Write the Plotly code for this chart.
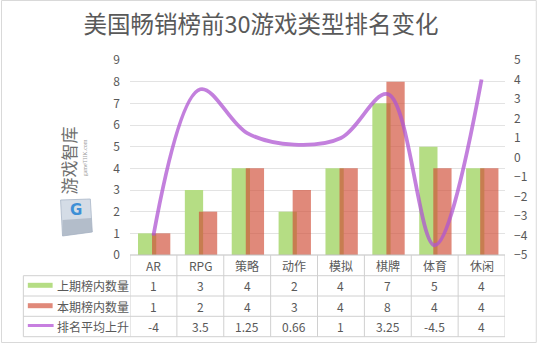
import plotly.graph_objects as go

categories = ["AR", "RPG", "策略", "动作", "模拟", "棋牌", "体育", "休闲"]
prev_counts = [1, 3, 4, 2, 4, 7, 5, 4]
curr_counts = [1, 2, 4, 3, 4, 8, 4, 4]
avg_rise = [-4, 3.5, 1.25, 0.66, 1, 3.25, -4.5, 4]
avg_rise_labels = ["-4", "3.5", "1.25", "0.66", "1", "3.25", "-4.5", "4"]
series_names = ["上期榜内数量", "本期榜内数量", "排名平均上升"]

W, H = 540, 344
L, R, T, B = 130, 508, 60, 255
FONT = "Noto Sans CJK SC, Noto Sans, sans-serif"
TXT = "#595959"
GREEN = "#b5dd84"
RED = "rgba(208,76,53,0.66)"
PURPLE = "rgba(175,85,210,0.75)"
GRID = "#e3e3e3"


def px(xp):
    return (xp - L) / (R - L)


def py(yp):
    return (B - yp) / (B - T)


fig = go.Figure()
fig.add_trace(go.Bar(x=categories, y=prev_counts, name=series_names[0],
                     marker=dict(color=GREEN, line=dict(width=0)),
                     width=0.39, offset=-0.33, yaxis="y"))
fig.add_trace(go.Bar(x=categories, y=curr_counts, name=series_names[1],
                     marker=dict(color=RED, line=dict(width=0)),
                     width=0.39, offset=-0.03, yaxis="y"))
fig.add_trace(go.Scatter(x=categories, y=avg_rise, name=series_names[2],
                         mode="lines", line=dict(color=PURPLE, width=3.8, shape="spline", smoothing=1.0),
                         yaxis="y2"))

shapes = []
annotations = []
row_lines = [275.7, 296, 316.3, 336.7]
row_centers = [285.8, 306.2, 326.5]
header_center = 265.5
LINE = dict(color="#d0d0d0", width=1)

for yl in row_lines:
    shapes.append(dict(type="line", xref="paper", yref="paper", x0=px(22.5), x1=px(R), y0=py(yl), y1=py(yl), line=LINE))
shapes.append(dict(type="line", xref="paper", yref="paper", x0=px(L), x1=px(R), y0=py(B), y1=py(B), line=dict(color="#bfbfbf", width=1)))
for i in range(len(categories) + 1):
    shapes.append(dict(type="line", xref="x", yref="paper", x0=i - 0.5, x1=i - 0.5, y0=py(B), y1=py(row_lines[-1]), line=LINE))
shapes.append(dict(type="line", xref="paper", yref="paper", x0=px(22.5), x1=px(22.5), y0=py(row_lines[0]), y1=py(row_lines[-1]), line=LINE))

for c in categories:
    annotations.append(dict(x=c, xref="x", y=py(header_center), yref="paper", text=c, showarrow=False,
                            font=dict(family=FONT, size=12, color=TXT), xanchor="center", yanchor="middle"))
rows = [[str(v) for v in prev_counts], [str(v) for v in curr_counts], avg_rise_labels]
for r, vals in enumerate(rows):
    for c, v in zip(categories, vals):
        annotations.append(dict(x=c, xref="x", y=py(row_centers[r]), yref="paper", text=v, showarrow=False,
                                font=dict(family=FONT, size=12, color=TXT), xanchor="center", yanchor="middle"))
    annotations.append(dict(x=px(54), xref="paper", y=py(row_centers[r]), yref="paper", text=series_names[r],
                            showarrow=False, font=dict(family=FONT, size=12, color=TXT), xanchor="left", yanchor="middle"))

shapes.append(dict(type="rect", xref="paper", yref="paper", x0=px(27), x1=px(52), y0=py(row_centers[0] - 3), y1=py(row_centers[0] + 2),
                   fillcolor=GREEN, line=dict(width=0)))
shapes.append(dict(type="rect", xref="paper", yref="paper", x0=px(27), x1=px(52), y0=py(row_centers[1] - 3), y1=py(row_centers[1] + 2),
                   fillcolor="#e0897a", line=dict(width=0)))
shapes.append(dict(type="line", xref="paper", yref="paper", x0=px(27), x1=px(53), y0=py(row_centers[2] - 1), y1=py(row_centers[2] - 1),
                   line=dict(color="#c77fe0", width=3)))

shapes.append(dict(type="rect", xref="paper", yref="paper", x0=px(0.5), x1=px(539.5), y0=py(342.5), y1=py(0.5),
                   line=dict(color="#d9d9d9", width=1), fillcolor="rgba(0,0,0,0)"))

# watermark cube
shapes.append(dict(type="path", xref="paper", yref="paper",
                   path="M {a},{b} L {c},{d} L {e},{f} L {g},{h} Z".format(
                       a=px(60), b=py(200), c=px(90), d=py(199), e=px(92), f=py(232), g=px(62), h=py(236)),
                   fillcolor="rgba(205,214,226,0.85)", line=dict(color="rgba(170,182,200,0.8)", width=1)))
shapes.append(dict(type="path", xref="paper", yref="paper",
                   path="M {a},{b} L {c},{d} L {e},{f} L {g},{h} Z".format(
                       a=px(62), b=py(220), c=px(91), d=py(218), e=px(92), f=py(232), g=px(62), h=py(236)),
                   fillcolor="rgba(165,175,190,0.7)", line=dict(width=0)))
annotations.append(dict(x=px(76), y=py(210), xref="paper", yref="paper", text="<b>G</b>", showarrow=False,
                        font=dict(family="DejaVu Sans", size=15, color="#3d8fd6"), xanchor="center", yanchor="middle"))
annotations.append(dict(x=px(68), y=py(160), xref="paper", yref="paper", text="游戏智库", textangle=-90, showarrow=False,
                        font=dict(family=FONT, size=17, color="#6f6f6f"), xanchor="center", yanchor="middle"))
annotations.append(dict(x=px(85), y=py(158), xref="paper", yref="paper", text="gameTIIK.com", textangle=-90, showarrow=False,
                        font=dict(family="Liberation Serif", size=6, color="#9a9a9a"), xanchor="center", yanchor="middle"))

fig.update_layout(
    width=W, height=H,
    margin=dict(l=L, r=W - R, t=T, b=H - B, pad=0),
    paper_bgcolor="white", plot_bgcolor="white",
    barmode="overlay", showlegend=False,
    title=dict(text="美国畅销榜前30游戏类型排名变化", x=261 / W, xanchor="center", xref="container",
               y=1 - 25 / H, yanchor="middle", yref="container",
               font=dict(family=FONT, size=23.5, color=TXT)),
    xaxis=dict(type="category", range=[-0.5, len(categories) - 0.5], showticklabels=False,
               showgrid=False, zeroline=False, showline=False, ticks=""),
    yaxis=dict(range=[0, 9], dtick=1, tick0=0, showgrid=True, gridcolor=GRID, gridwidth=1,
               zeroline=False, showline=False, ticks="", ticklabelstandoff=9,
               tickfont=dict(family=FONT, size=12, color=TXT)),
    yaxis2=dict(range=[-5, 5], dtick=1, tick0=0, overlaying="y", side="right", showgrid=False,
                zeroline=False, showline=False, ticks="", ticklabelstandoff=8,
                tickfont=dict(family=FONT, size=12, color=TXT)),
    shapes=shapes, annotations=annotations,
)

fig.write_html("out.html")
